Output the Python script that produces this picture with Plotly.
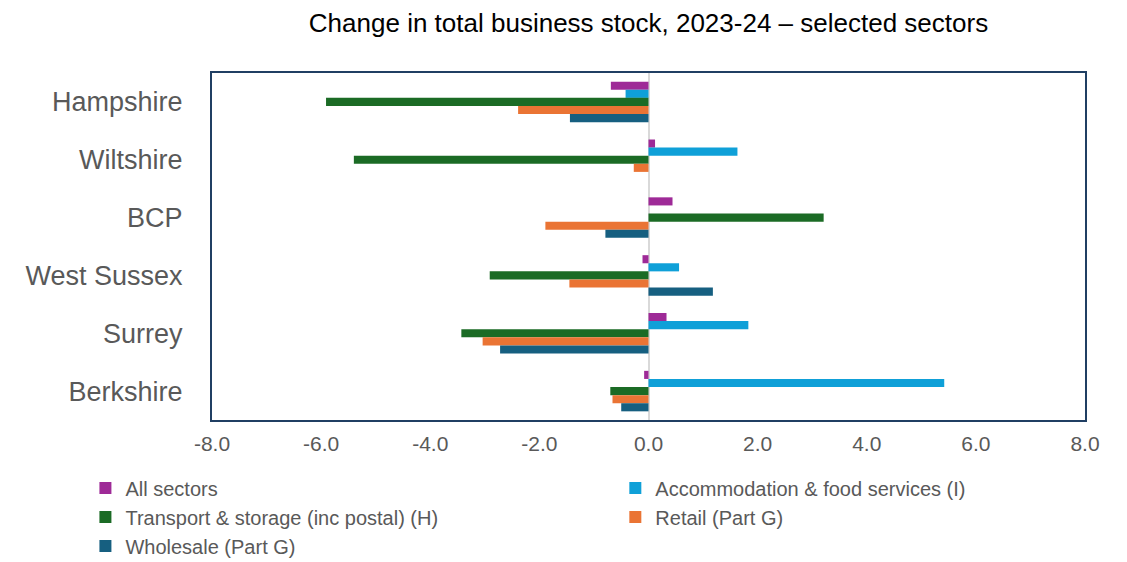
import plotly.graph_objects as go

regions = ["Hampshire", "Wiltshire", "BCP", "West Sussex", "Surrey", "Berkshire"]

all_sectors = [-0.69, 0.12, 0.44, -0.11, 0.33, -0.08]
accommodation = [-0.42, 1.63, 0.0, 0.56, 1.83, 5.42]
transport = [-5.91, -5.40, 3.21, -2.91, -3.43, -0.70]
retail = [-2.39, -0.27, -1.89, -1.45, -3.04, -0.66]
wholesale = [-1.44, 0.0, -0.79, 1.18, -2.72, -0.50]

x_tick_vals = [-8, -6, -4, -2, 0, 2, 4, 6, 8]
x_tick_text = ["-8.0", "-6.0", "-4.0", "-2.0", "0.0", "2.0", "4.0", "6.0", "8.0"]

series = [
    ("All sectors", all_sectors, "#9E2A97", "legend"),
    ("Accommodation & food services (I)", accommodation, "#0FA0D8", "legend2"),
    ("Transport & storage (inc postal) (H)", transport, "#1B6B25", "legend"),
    ("Retail (Part G)", retail, "#EA7434", "legend2"),
    ("Wholesale (Part G)", wholesale, "#165F80", "legend"),
]

fig = go.Figure()
for i, (name, vals, color, leg) in enumerate(series):
    fig.add_trace(go.Bar(
        y=regions, x=vals, name=name, orientation="h",
        marker=dict(color=color, line=dict(width=0)),
        legend=leg, legendgroup=f"g{i}",
    ))

font_family = "Arial, Liberation Sans, sans-serif"
fig.update_layout(
    width=1127, height=562,
    margin=dict(l=212, r=42, t=73, b=142, autoexpand=False),
    paper_bgcolor="white", plot_bgcolor="white",
    barmode="group", bargap=0.3, bargroupgap=0,
    font=dict(family=font_family, color="#595959"),
    title=dict(text="Change in total business stock, 2023-24 – selected sectors",
               x=0.5, xref="paper", xanchor="center", y=0.96, yanchor="middle",
               font=dict(size=26, color="#000000", family=font_family)),
    xaxis=dict(range=[-8, 8], tickvals=x_tick_vals, ticktext=x_tick_text,
               showgrid=False, zeroline=True, zerolinecolor="#D9D9D9", zerolinewidth=2,
               showline=True, mirror=True, linecolor="#203F63", linewidth=2,
               ticks="", ticklabelstandoff=4, tickfont=dict(size=21, color="#595959")),
    yaxis=dict(autorange="reversed", showgrid=False, showline=True, mirror=True,
               linecolor="#203F63", linewidth=2, ticks="", ticklabelstandoff=22,
               tickfont=dict(size=27, color="#595959")),
    showlegend=True,
    legend=dict(x=-0.145, y=-0.14, xanchor="left", yanchor="top", orientation="v",
                font=dict(size=20, color="#595959"), tracegroupgap=0,
                bgcolor="rgba(0,0,0,0)", itemclick=False),
    legend2=dict(x=0.462, y=-0.14, xanchor="left", yanchor="top", orientation="v",
                 font=dict(size=20, color="#595959"), tracegroupgap=0,
                 bgcolor="rgba(0,0,0,0)", itemclick=False),
)

fig.write_html("out.html")
